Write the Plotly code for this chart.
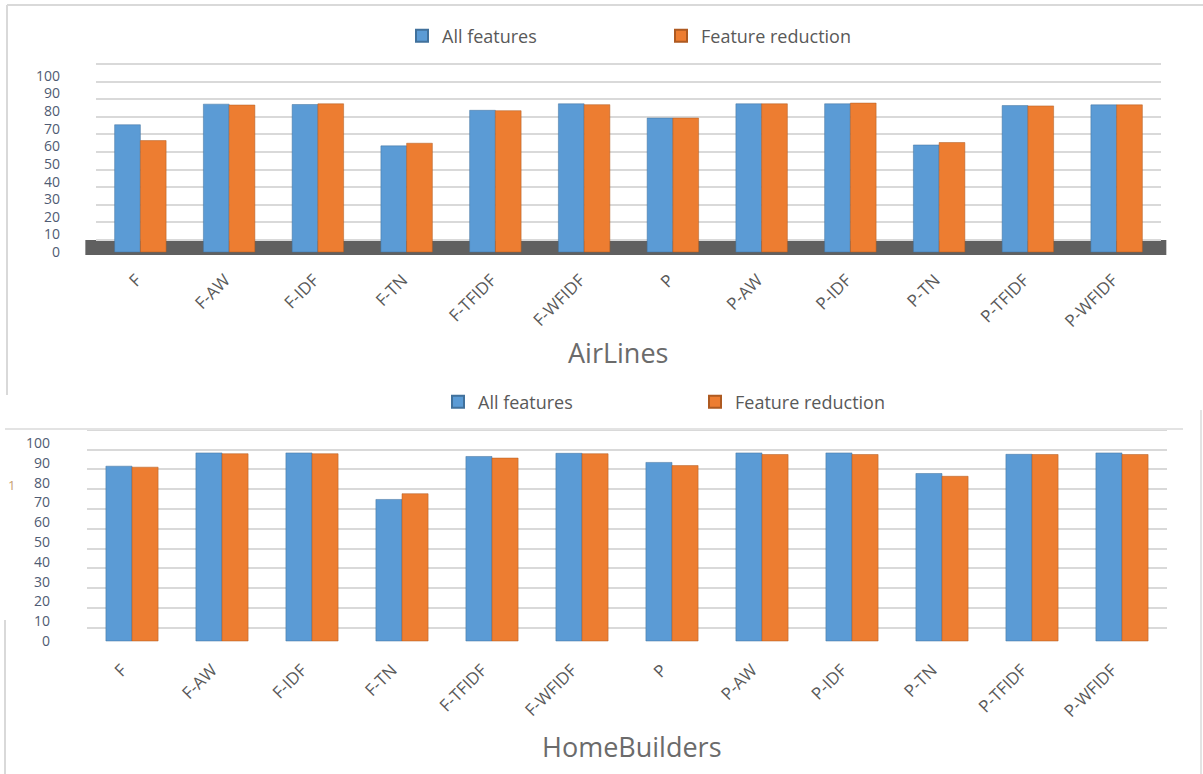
import plotly.graph_objects as go

categories = ["F", "F-AW", "F-IDF", "F-TN", "F-TFIDF", "F-WFIDF",
              "P", "P-AW", "P-IDF", "P-TN", "P-TFIDF", "P-WFIDF"]
series_names = ["All features", "Feature reduction"]

airlines_all = [72.3, 84.0, 83.8, 60.3, 80.5, 84.2, 76.1, 84.2, 84.2, 60.8, 83.2, 83.6]
airlines_red = [63.3, 83.5, 84.2, 61.8, 80.3, 83.7, 76.1, 84.2, 84.6, 62.2, 83.0, 83.6]

home_all = [88.3, 95.0, 95.0, 71.5, 93.2, 94.8, 90.2, 95.0, 95.0, 84.6, 94.3, 95.0]
home_red = [87.8, 94.6, 94.6, 74.4, 92.4, 94.6, 88.6, 94.2, 94.2, 83.2, 94.2, 94.2]

tick_vals = [0, 10, 20, 30, 40, 50, 60, 70, 80, 90, 100]

BLUE = "#5B9BD5"
ORANGE = "#ED7D31"
GRAY = "#595959"
LABEL = "#4F5B73"
FONT = "Open Sans"

W, H = 1203, 774


def py(pix):
    return 1 - pix / H


def px(pix):
    return pix / W


fig = go.Figure()

fig.add_trace(go.Bar(x=categories, y=airlines_all, name=series_names[0],
                     marker=dict(color=BLUE, line=dict(color="#41719C", width=0.5)),
                     xaxis="x", yaxis="y", legend="legend"))
fig.add_trace(go.Bar(x=categories, y=airlines_red, name=series_names[1],
                     marker=dict(color=ORANGE, line=dict(color="#AE5A21", width=0.5)),
                     xaxis="x", yaxis="y", legend="legend"))
fig.add_trace(go.Bar(x=categories, y=home_all, name=series_names[0],
                     marker=dict(color=BLUE, line=dict(color="#41719C", width=0.5)),
                     xaxis="x2", yaxis="y2", legend="legend2"))
fig.add_trace(go.Bar(x=categories, y=home_red, name=series_names[1],
                     marker=dict(color=ORANGE, line=dict(color="#AE5A21", width=0.5)),
                     xaxis="x2", yaxis="y2", legend="legend2"))
# empty helper traces so the "back wall" grid axes are drawn
fig.add_trace(go.Scatter(x=categories[:1], y=[0], mode="none", showlegend=False,
                         hoverinfo="skip", xaxis="x", yaxis="y3"))
fig.add_trace(go.Scatter(x=categories[:1], y=[0], mode="none", showlegend=False,
                         hoverinfo="skip", xaxis="x2", yaxis="y4"))

grid = dict(showgrid=True, gridcolor="#D9D9D9", gridwidth=1.6, showticklabels=False,
            zeroline=False, ticks="", tickvals=tick_vals, automargin=False)

fig.update_layout(
    width=W, height=H,
    margin=dict(l=0, r=0, t=0, b=0, pad=0, autoexpand=False),
    paper_bgcolor="white", plot_bgcolor="white",
    barmode="group", bargap=0.42, bargroupgap=0.0,
    font=dict(family=FONT, color=GRAY),
    # ---- AirLines ----
    xaxis=dict(domain=[px(96), px(1161)], anchor="y", tickangle=-45, automargin=False,
               tickfont=dict(size=17, color=GRAY), showgrid=False,
               showline=False, ticks="", ticklabelstandoff=11, ticklabelshift=-4),
    yaxis=dict(domain=[py(255), py(45)], anchor="x", range=[-1.70, 117.6], automargin=False,
               tickvals=tick_vals, tickfont=dict(size=14, color=LABEL),
               showgrid=False, zeroline=False, ticklabelstandoff=35),
    yaxis3=dict(overlaying="y", anchor="x", range=[-8.52, 110.8], **grid),
    # ---- HomeBuilders ----
    xaxis2=dict(domain=[px(87), px(1167)], anchor="y2", tickangle=-45, automargin=False,
                tickfont=dict(size=17, color=GRAY), showgrid=False,
                showline=False, ticks="", ticklabelstandoff=8, ticklabelshift=-10),
    yaxis2=dict(domain=[py(648), py(425)], anchor="x2", range=[-3.54, 109.1], automargin=False,
                tickvals=tick_vals, tickfont=dict(size=14, color=LABEL),
                showgrid=False, zeroline=False, ticklabelstandoff=36),
    yaxis4=dict(overlaying="y2", anchor="x2", range=[-10.25, 102.4], **grid),
    legend=dict(orientation="h", x=px(402), y=py(36), xanchor="left", yanchor="middle",
                font=dict(size=18, color=GRAY), entrywidth=214, entrywidthmode="pixels",
                itemsizing="constant", bgcolor="rgba(0,0,0,0)"),
    legend2=dict(orientation="h", x=px(438), y=py(402), xanchor="left", yanchor="middle",
                 font=dict(size=18, color=GRAY), entrywidth=212, entrywidthmode="pixels",
                 itemsizing="constant", bgcolor="rgba(0,0,0,0)"),
    annotations=[
        dict(text="AirLines", x=px(618), y=py(352), xref="paper", yref="paper",
             xanchor="center", yanchor="middle",
             showarrow=False, font=dict(size=27, color="#6B6B6B", family=FONT)),
        dict(text="HomeBuilders", x=px(632), y=py(746), xref="paper", yref="paper",
             xanchor="center", yanchor="middle",
             showarrow=False, font=dict(size=27, color="#6B6B6B", family=FONT)),
        dict(text="1", x=px(11), y=py(485), xref="paper", yref="paper",
             xanchor="center", yanchor="middle",
             showarrow=False, font=dict(size=13, color="#C8A070", family=FONT)),
    ],
    shapes=[
        # dark floor of the upper chart, behind the bars
        dict(type="rect", xref="x domain", yref="y", x0=-0.01, x1=1.005, y0=-1.7, y1=6.8,
             fillcolor="#606060", line=dict(width=0), layer="below"),
        # chart frames
        dict(type="line", xref="paper", yref="paper", x0=px(7), x1=1, y0=py(5), y1=py(5),
             line=dict(color="#D9D9D9", width=2)),
        dict(type="line", xref="paper", yref="paper", x0=px(7), x1=px(7), y0=py(5), y1=py(395),
             line=dict(color="#D9D9D9", width=2)),
        dict(type="line", xref="paper", yref="paper", x0=px(5), x1=px(1183), y0=py(429), y1=py(429),
             line=dict(color="#E3E3E3", width=2)),
        dict(type="line", xref="paper", yref="paper", x0=px(5), x1=px(5), y0=py(620), y1=0,
             line=dict(color="#D9D9D9", width=2)),
        dict(type="line", xref="paper", yref="paper", x0=px(1201), x1=px(1201), y0=py(410), y1=0,
             line=dict(color="#E3E3E3", width=2)),
    ],
)

fig.write_html("out.html", config={"displayModeBar": False},
               post_script="document.body.style.margin='0px';document.body.style.overflow='hidden';")
